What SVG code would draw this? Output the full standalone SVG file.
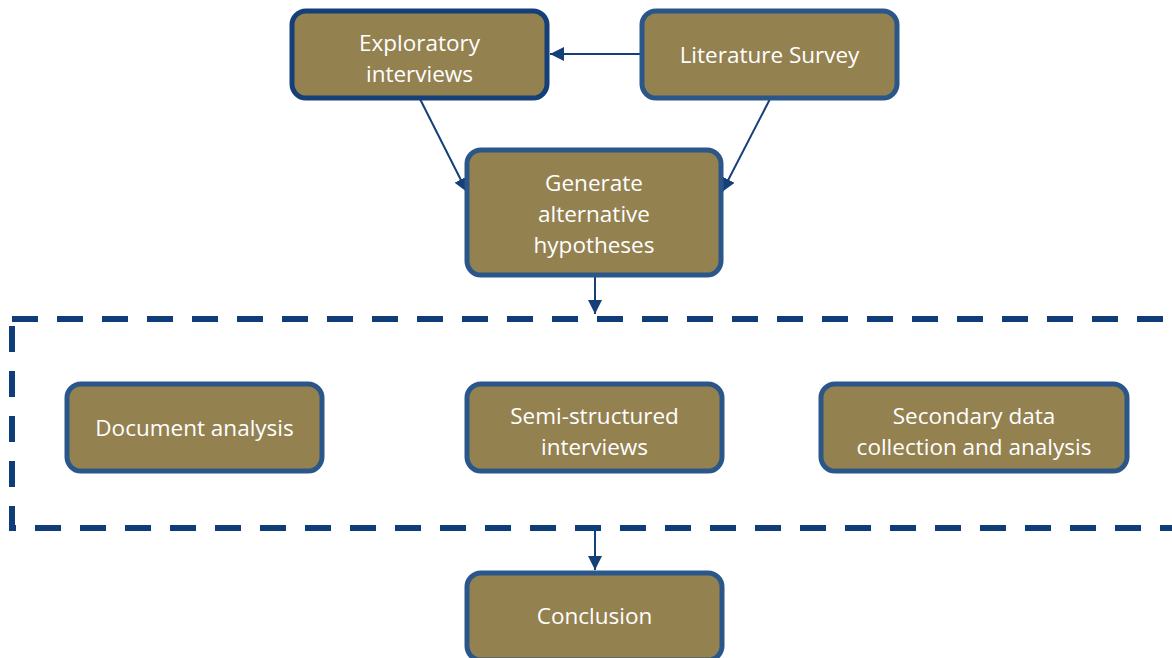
<svg xmlns="http://www.w3.org/2000/svg" width="1172" height="658" viewBox="0 0 1172 658">
<style>
.box{fill:#948150;stroke:#2b5689;stroke-width:5}
.dark{stroke:#143f78}
.t{font-family:"Open Sans","Liberation Sans",sans-serif;font-size:22.5px;fill:#ffffff;text-anchor:middle}
.c{stroke:#143f78;stroke-width:2;fill:none}
</style>
<defs>
<marker id="ah2" viewBox="0 0 10 10" refX="10" refY="5" markerWidth="14" markerHeight="14" markerUnits="userSpaceOnUse" orient="auto">
<path d="M0,0 L10,5 L0,10 z" fill="#143f78"/>
</marker>
</defs>
<rect x="12" y="319" width="1180" height="209" fill="none" stroke="#0e3d7a" stroke-width="6" stroke-dasharray="26 19"/>
<g id="connectors">
<line class="c" x1="641" y1="54" x2="550" y2="54" marker-end="url(#ah2)"/>
<line class="c" x1="420" y1="99" x2="467" y2="192" marker-end="url(#ah2)"/>
<line class="c" x1="770" y1="99" x2="722" y2="192" marker-end="url(#ah2)"/>
<line class="c" x1="595" y1="277" x2="595" y2="314" marker-end="url(#ah2)"/>
<line class="c" x1="595" y1="528" x2="595" y2="570" marker-end="url(#ah2)"/>
</g>
<g id="exploratory"><rect class="box dark" x="292" y="11" width="255" height="87" rx="14"/><text class="t" x="419.5" y="51">Exploratory</text><text class="t" x="419.5" y="82">interviews</text></g>
<g id="literature"><rect class="box" x="642" y="11" width="255" height="87" rx="14"/><text class="t" x="769.5" y="63">Literature Survey</text></g>
<g id="generate"><rect class="box" x="467" y="150" width="254" height="125" rx="14"/><text class="t" x="594" y="191">Generate</text><text class="t" x="594" y="222">alternative</text><text class="t" x="594" y="253">hypotheses</text></g>
<g id="document"><rect class="box" x="67" y="384" width="255" height="87" rx="14"/><text class="t" x="194.5" y="436">Document analysis</text></g>
<g id="semi"><rect class="box" x="467" y="384" width="255" height="87" rx="14"/><text class="t" x="594.5" y="424">Semi-structured</text><text class="t" x="594.5" y="455">interviews</text></g>
<g id="secondary"><rect class="box" x="821" y="384" width="306" height="87" rx="14"/><text class="t" x="974" y="424">Secondary data</text><text class="t" x="974" y="455">collection and analysis</text></g>
<g id="conclusion"><rect class="box" x="467" y="573" width="255" height="87" rx="14"/><text class="t" x="594.5" y="624">Conclusion</text></g>
</svg>
